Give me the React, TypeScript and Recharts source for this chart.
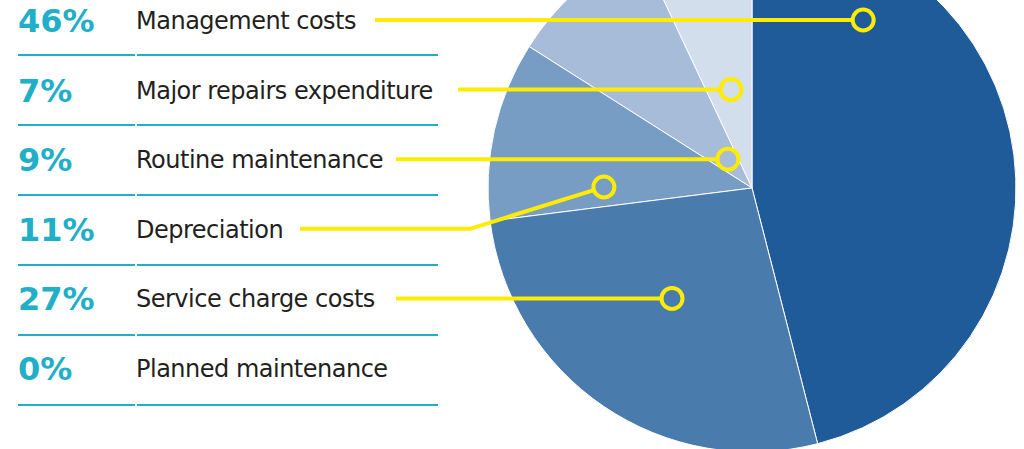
import { PieChart, Pie, Cell } from 'recharts';

const categories = [
  'Management costs',
  'Major repairs expenditure',
  'Routine maintenance',
  'Depreciation',
  'Service charge costs',
  'Planned maintenance',
];
const values = [46, 7, 9, 11, 27, 0];
const percentLabels = ['46%', '7%', '9%', '11%', '27%', '0%'];

const sliceColors = ['#1F5B98', '#D3DEEC', '#A7BCD8', '#789DC4', '#4A7BAD', '#1F5B98'];

// marker position inside each slice (polar, relative to pie centre) and where its leader starts
const markers = [
  { angle: 56.5, r: 0.763, lineStart: 375, elbow: null },
  { angle: 102.1, r: 0.38, lineStart: 458, elbow: null },
  { angle: 129.6, r: 0.143, lineStart: 396, elbow: null },
  { angle: 179.6, r: 0.561, lineStart: 300, elbow: 470 },
  { angle: 234.2, r: 0.518, lineStart: 396, elbow: null },
  null,
];

const W = 1024;
const H = 449;
const ROW_TOP = 20;
const ROW_STEP = 69.6;
const TEAL = '#20AFC7';
const YELLOW = '#FFEC00';
const RAD = Math.PI / 180;

const data = categories.map((name, i) => ({ name, value: values[i] }));
const startAngle = 90 - values[0] * 3.6;

const rowY = (i: number) => ROW_TOP + i * ROW_STEP;

function renderMarker(props: any) {
  const { cx, cy, outerRadius, index } = props;
  const m = markers[index];
  if (!m) return null;
  const mx = cx + outerRadius * m.r * Math.cos(-m.angle * RAD);
  const y = rowY(index);
  const my = m.elbow ? cy + outerRadius * m.r * Math.sin(-m.angle * RAD) : y;
  const sx = m.elbow ?? m.lineStart;
  const circleR = 10.5;
  const dx = mx - sx;
  const dy = my - y;
  const d = Math.sqrt(dx * dx + dy * dy) || 1;
  const endX = mx - (dx / d) * circleR;
  const endY = my - (dy / d) * circleR;
  const pts = m.elbow ? `${m.lineStart},${y} ${sx},${y} ${endX},${endY}` : `${m.lineStart},${y} ${endX},${endY}`;
  return (
    <g key={`marker-${index}`}>
      <polyline points={pts} fill="none" stroke={YELLOW} strokeWidth={4} />
      <circle cx={mx} cy={my} r={circleR} fill="none" stroke={YELLOW} strokeWidth={4} />
    </g>
  );
}

export default function App() {
  return (
    <div style={{ position: 'absolute', left: 0, top: 0, width: W, height: H, overflow: 'hidden', background: '#fff' }}>
      <svg width={W} height={H} style={{ position: 'absolute', left: 0, top: 0 }}>
        {categories.map((name, i) => (
          <g key={name}>
            <text
              x={18}
              y={rowY(i) + 12}
              fill={TEAL}
              fontFamily="DejaVu Sans"
              fontWeight="bold"
              fontSize={32}
            >
              {percentLabels[i]}
            </text>
            <text
              x={136}
              y={rowY(i) + 9}
              fill="#231F20"
              fontFamily="DejaVu Sans"
              fontSize={24}
              letterSpacing={-0.5}
            >
              {name}
            </text>
            <line x1={18} x2={135} y1={55 + i * 70} y2={55 + i * 70} stroke={TEAL} strokeWidth={2} />
            <line x1={137} x2={438} y1={55 + i * 70} y2={55 + i * 70} stroke={TEAL} strokeWidth={2} />
          </g>
        ))}
      </svg>
      <div style={{ position: 'absolute', left: 0, top: 0 }}>
        <PieChart width={W} height={H} margin={{ top: 0, right: 0, bottom: 0, left: 0 }}>
          <Pie
            data={data}
            dataKey="value"
            nameKey="name"
            cx={752}
            cy={188}
            outerRadius={264}
            startAngle={startAngle}
            endAngle={startAngle + 360}
            stroke="#ffffff"
            strokeWidth={1}
            label={renderMarker}
            labelLine={false}
            isAnimationActive={false}
          >
            {data.map((d, i) => (
              <Cell key={d.name} fill={sliceColors[i]} />
            ))}
          </Pie>
        </PieChart>
      </div>
    </div>
  );
}
